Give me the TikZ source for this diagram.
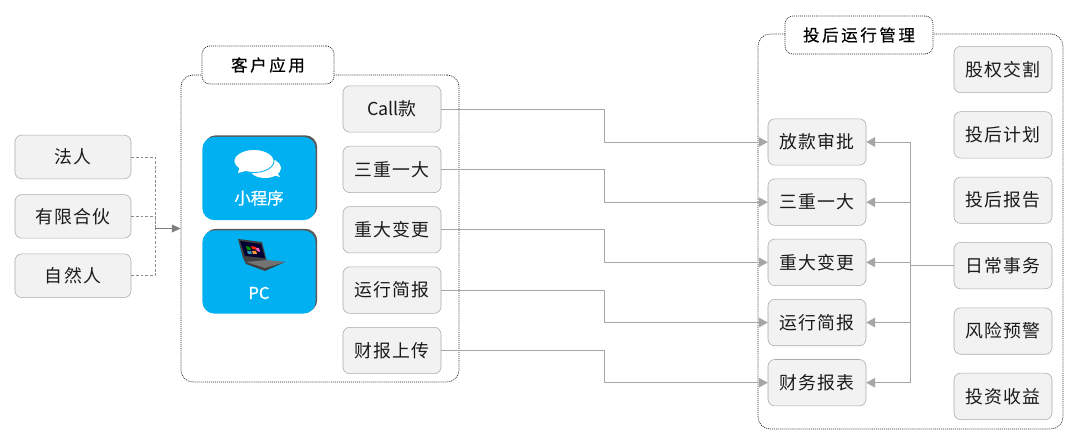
\documentclass[tikz,border=0pt]{standalone}
\usepackage{fontspec}
\setmainfont{Noto Sans CJK SC}
\newfontfamily\boxfont[LetterSpace=8]{Noto Sans CJK SC}
\newfontfamily\titlefont[LetterSpace=16, FakeBold=0.3]{Noto Sans CJK SC}
\newfontfamily\appfont[FakeBold=0.7]{Noto Sans CJK SC}
\usepackage{xcolor}
\usepackage{tikz}
\usetikzlibrary{arrows.meta, positioning, shadows}
\definecolor{boxfill}{HTML}{F2F2F2}
\definecolor{boxline}{HTML}{ABABAB}
\definecolor{linkline}{HTML}{A6A6A6}
\definecolor{appblue}{HTML}{00B0F0}
\definecolor{textgray}{HTML}{1A1A1A}
\tikzstyle{item} = [rectangle, rounded corners=0.17cm, minimum width=2.45cm, minimum height=1.16cm, inner sep=0pt, text centered, draw=boxline, fill=boxfill, text=textgray, font=\boxfont\fontsize{12.7}{14}\selectfont]
\tikzstyle{party} = [item, minimum width=2.9cm, minimum height=1.09cm]
\tikzstyle{panel} = [rectangle, rounded corners=0.3cm, line width=0.5pt, dash pattern=on 0.7pt off 0.7pt, draw=black!85, fill=white]
\tikzstyle{paneltitle} = [rectangle, rounded corners=0.2cm, line width=0.5pt, dash pattern=on 0.7pt off 0.7pt, draw=black!85, fill=white, minimum height=0.95cm, inner sep=0pt, text=black, font=\titlefont\fontsize{11.7}{13}\selectfont]
\tikzstyle{appbox} = [rectangle, rounded corners=0.3cm, minimum width=2.83cm, minimum height=2.08cm, fill=appblue, copy shadow={shadow xshift=0.04cm, shadow yshift=0.04cm, fill=black!65, draw=none, opacity=1}]
\tikzstyle{apptext} = [text=white, inner sep=0pt, font=\appfont\fontsize{11.7}{13}\selectfont]
\tikzstyle{arrow} = [draw=linkline, -{Triangle[length=0.22cm, width=0.24cm]}]
\tikzstyle{plain} = [draw=linkline]
\tikzstyle{dashlink} = [draw=black!45, dash pattern=on 2pt off 1.3pt]
\begin{document}
\begin{tikzpicture}[x=0.025cm, y=-0.025cm]
    \useasboundingbox (0,0) rectangle (1084,444);

    % panels
    \node (client) [panel, minimum width=6.95cm, minimum height=7.67cm] at (320,228.5) {};
    \node (clientTitle) [paneltitle, minimum width=3.3cm] at (268,65) {客户应用};
    \node (manage) [panel, minimum width=7.62cm, minimum height=9.87cm] at (910.5,231.5) {};
    \node (manageTitle) [paneltitle, minimum width=3.7cm] at (859,35) {投后运行管理};

    % left parties
    \node (legal) [party] at (73,157) {法人};
    \node (partner) [party, below=0.38cm of legal] {有限合伙};
    \node (person) [party, below=0.38cm of partner] {自然人};

    % blue apps
    \node (mini) [appbox] at (259,178.5) {};
    \node (pc) [appbox] at (259,272) {};
    \node (miniText) [apptext] at (259,198) {小程序};
    \node (pcText) [apptext] at (259,293) {PC};

    % chat icon
    \fill[white] (265,168) ellipse (16 and 10);
    \fill[white] (262,172) -- (280,177) -- (274,168) -- cycle;
    \fill[white, draw=appblue, line width=0.6pt] (254,161) ellipse (20 and 11.5);
    \fill[white] (240,166) -- (238,173) -- (250,170) -- cycle;

    % laptop icon
    \fill[black!75] (238,239) -- (262,242) -- (267,262) -- (285,262) -- (265,271) -- (246,264) -- (243,258) -- cycle;
    \fill[black!55] (246,262) -- (267,260) -- (285,262) -- (265,268) -- cycle;
    \fill[black!80!blue] (240,241) -- (261,244) -- (265,258) -- (245,256) -- cycle;
    \fill[red!70!orange] (251,246) -- (256,247) -- (257,250) -- (252,249) -- cycle;
    \fill[magenta!60] (256,248) -- (259,248) -- (260,252) -- (257,251) -- cycle;
    \fill[green!55!black] (246,246) -- (250,247) -- (251,250) -- (247,250) -- cycle;
    \fill[cyan!70!black] (247,251) -- (251,251) -- (252,254) -- (248,254) -- cycle;
    \fill[orange!80] (252,251) -- (256,251) -- (257,254) -- (253,254) -- cycle;

    % client items
    \node (call) [item, font=\normalfont\fontsize{12.7}{14}\selectfont] at (392,109) {Call款};
    \node (triple) [item, below=0.335cm of call] {三重一大};
    \node (change) [item, below=0.335cm of triple] {重大变更};
    \node (brief) [item, below=0.335cm of change] {运行简报};
    \node (upload) [item, below=0.335cm of brief] {财报上传};

    % managed items
    \node (loan) [item] at (817,142) {放款审批};
    \node (tripleB) [item, below=0.33cm of loan] {三重一大};
    \node (changeB) [item, below=0.33cm of tripleB] {重大变更};
    \node (briefB) [item, below=0.33cm of changeB] {运行简报};
    \node (report) [item, below=0.33cm of briefB] {财务报表};

    % right column
    \node (equity) [item] at (1003,69.5) {股权交割};
    \node (plan) [item, below=0.46cm of equity] {投后计划};
    \node (postrep) [item, below=0.46cm of plan] {投后报告};
    \node (daily) [item, below=0.46cm of postrep] {日常事务};
    \node (risk) [item, below=0.46cm of daily] {风险预警};
    \node (income) [item, below=0.46cm of risk] {投资收益};

    % party links
    \coordinate (join) at (155,228.5);
    \draw [dashlink] (legal.east) -| (join);
    \draw [dashlink] (partner.east) -| (join);
    \draw [dashlink] (person.east) -| (join);
    \draw [draw=black!50, -{Triangle[length=0.22cm, width=0.2cm]}] (join) -- (client.west);

    % item links
    \draw [arrow] (call.east) -- ++(163,0) |- (loan.west);
    \draw [arrow] (triple.east) -- ++(163,0) |- (tripleB.west);
    \draw [arrow] (change.east) -- ++(163,0) |- (changeB.west);
    \draw [arrow] (brief.east) -- ++(163,0) |- (briefB.west);
    \draw [arrow] (upload.east) -- ++(163,0) |- (report.west);

    % daily links
    \coordinate [left=1.075cm of daily.west] (bus);
    \draw [plain] (daily.west) -- (bus);
    \draw [arrow] (bus) |- (loan.east);
    \draw [arrow] (bus) |- (tripleB.east);
    \draw [arrow] (bus) |- (changeB.east);
    \draw [arrow] (bus) |- (briefB.east);
    \draw [arrow] (bus) |- (report.east);
\end{tikzpicture}
\end{document}
